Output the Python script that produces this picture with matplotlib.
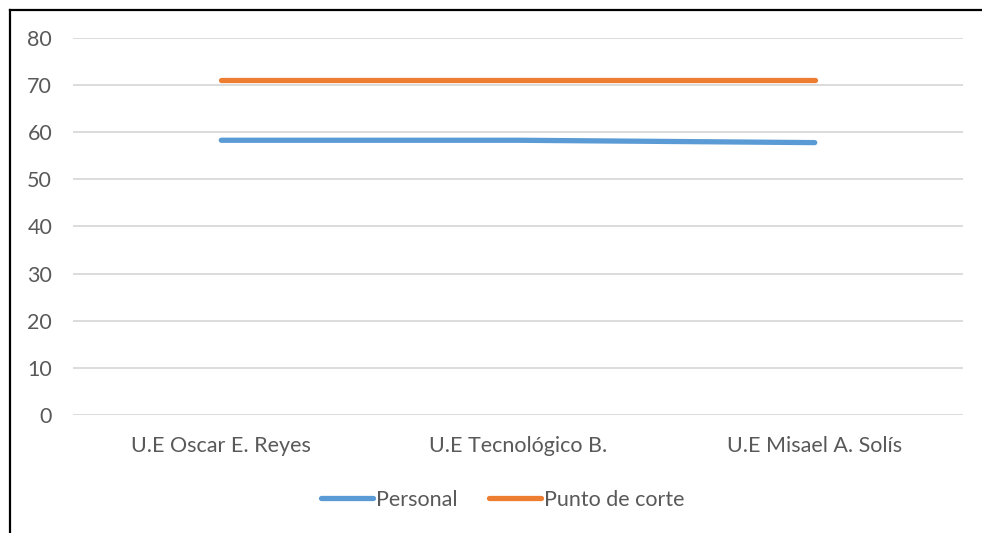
import matplotlib
matplotlib.use("Agg")
import matplotlib.pyplot as plt
from matplotlib.lines import Line2D

plt.rcParams['font.family'] = ['Lato', 'DejaVu Sans']

escuelas = ['U.E Oscar E. Reyes', 'U.E Tecnológico B.', 'U.E Misael A. Solís']
personal = [58.3, 58.3, 57.8]
punto_corte = [71, 71, 71]
y_ticks = [0, 10, 20, 30, 40, 50, 60, 70, 80]

azul = '#5b9bd5'
naranja = '#ed7d31'
gris = '#595959'

fig = plt.figure(figsize=(9.82, 5.33), dpi=100)
ax = fig.add_axes([0.0743, 0.2214, 0.9064, 0.7073])

x = range(len(escuelas))
ax.plot(x, personal, color=azul, lw=3.8, solid_capstyle='round', label='Personal')
ax.plot(x, punto_corte, color=naranja, lw=3.8, solid_capstyle='round', label='Punto de corte')

ax.set_xlim(-0.5, len(escuelas) - 0.5)
ax.set_ylim(0, 80)
ax.set_yticks(y_ticks)
ax.set_xticks(list(x))
ax.set_xticklabels(escuelas)
ax.grid(axis='y', color='#d9d9d9', lw=1.3)
ax.set_axisbelow(True)
for s in ax.spines.values():
    s.set_visible(False)
ax.tick_params(length=0, labelsize=15.5, labelcolor=gris)
ax.tick_params(axis='y', pad=15)
ax.tick_params(axis='x', pad=15)

leg = fig.legend(loc='center', bbox_to_anchor=(0.512, 0.062), ncol=2, frameon=False,
                 fontsize=15.5, handlelength=2.4, handletextpad=0.12, columnspacing=1.5)
for t in leg.get_texts():
    t.set_color(gris)

# marco superior e izquierdo
fig.add_artist(Line2D([9.5 / 982, 9.5 / 982], [0, 1 - 9.5 / 533], color='black', lw=1.6,
                      transform=fig.transFigure))
fig.add_artist(Line2D([9.5 / 982, 1], [1 - 9.5 / 533, 1 - 9.5 / 533], color='black', lw=1.6,
                      transform=fig.transFigure))

fig.savefig('out.png', dpi=100)
